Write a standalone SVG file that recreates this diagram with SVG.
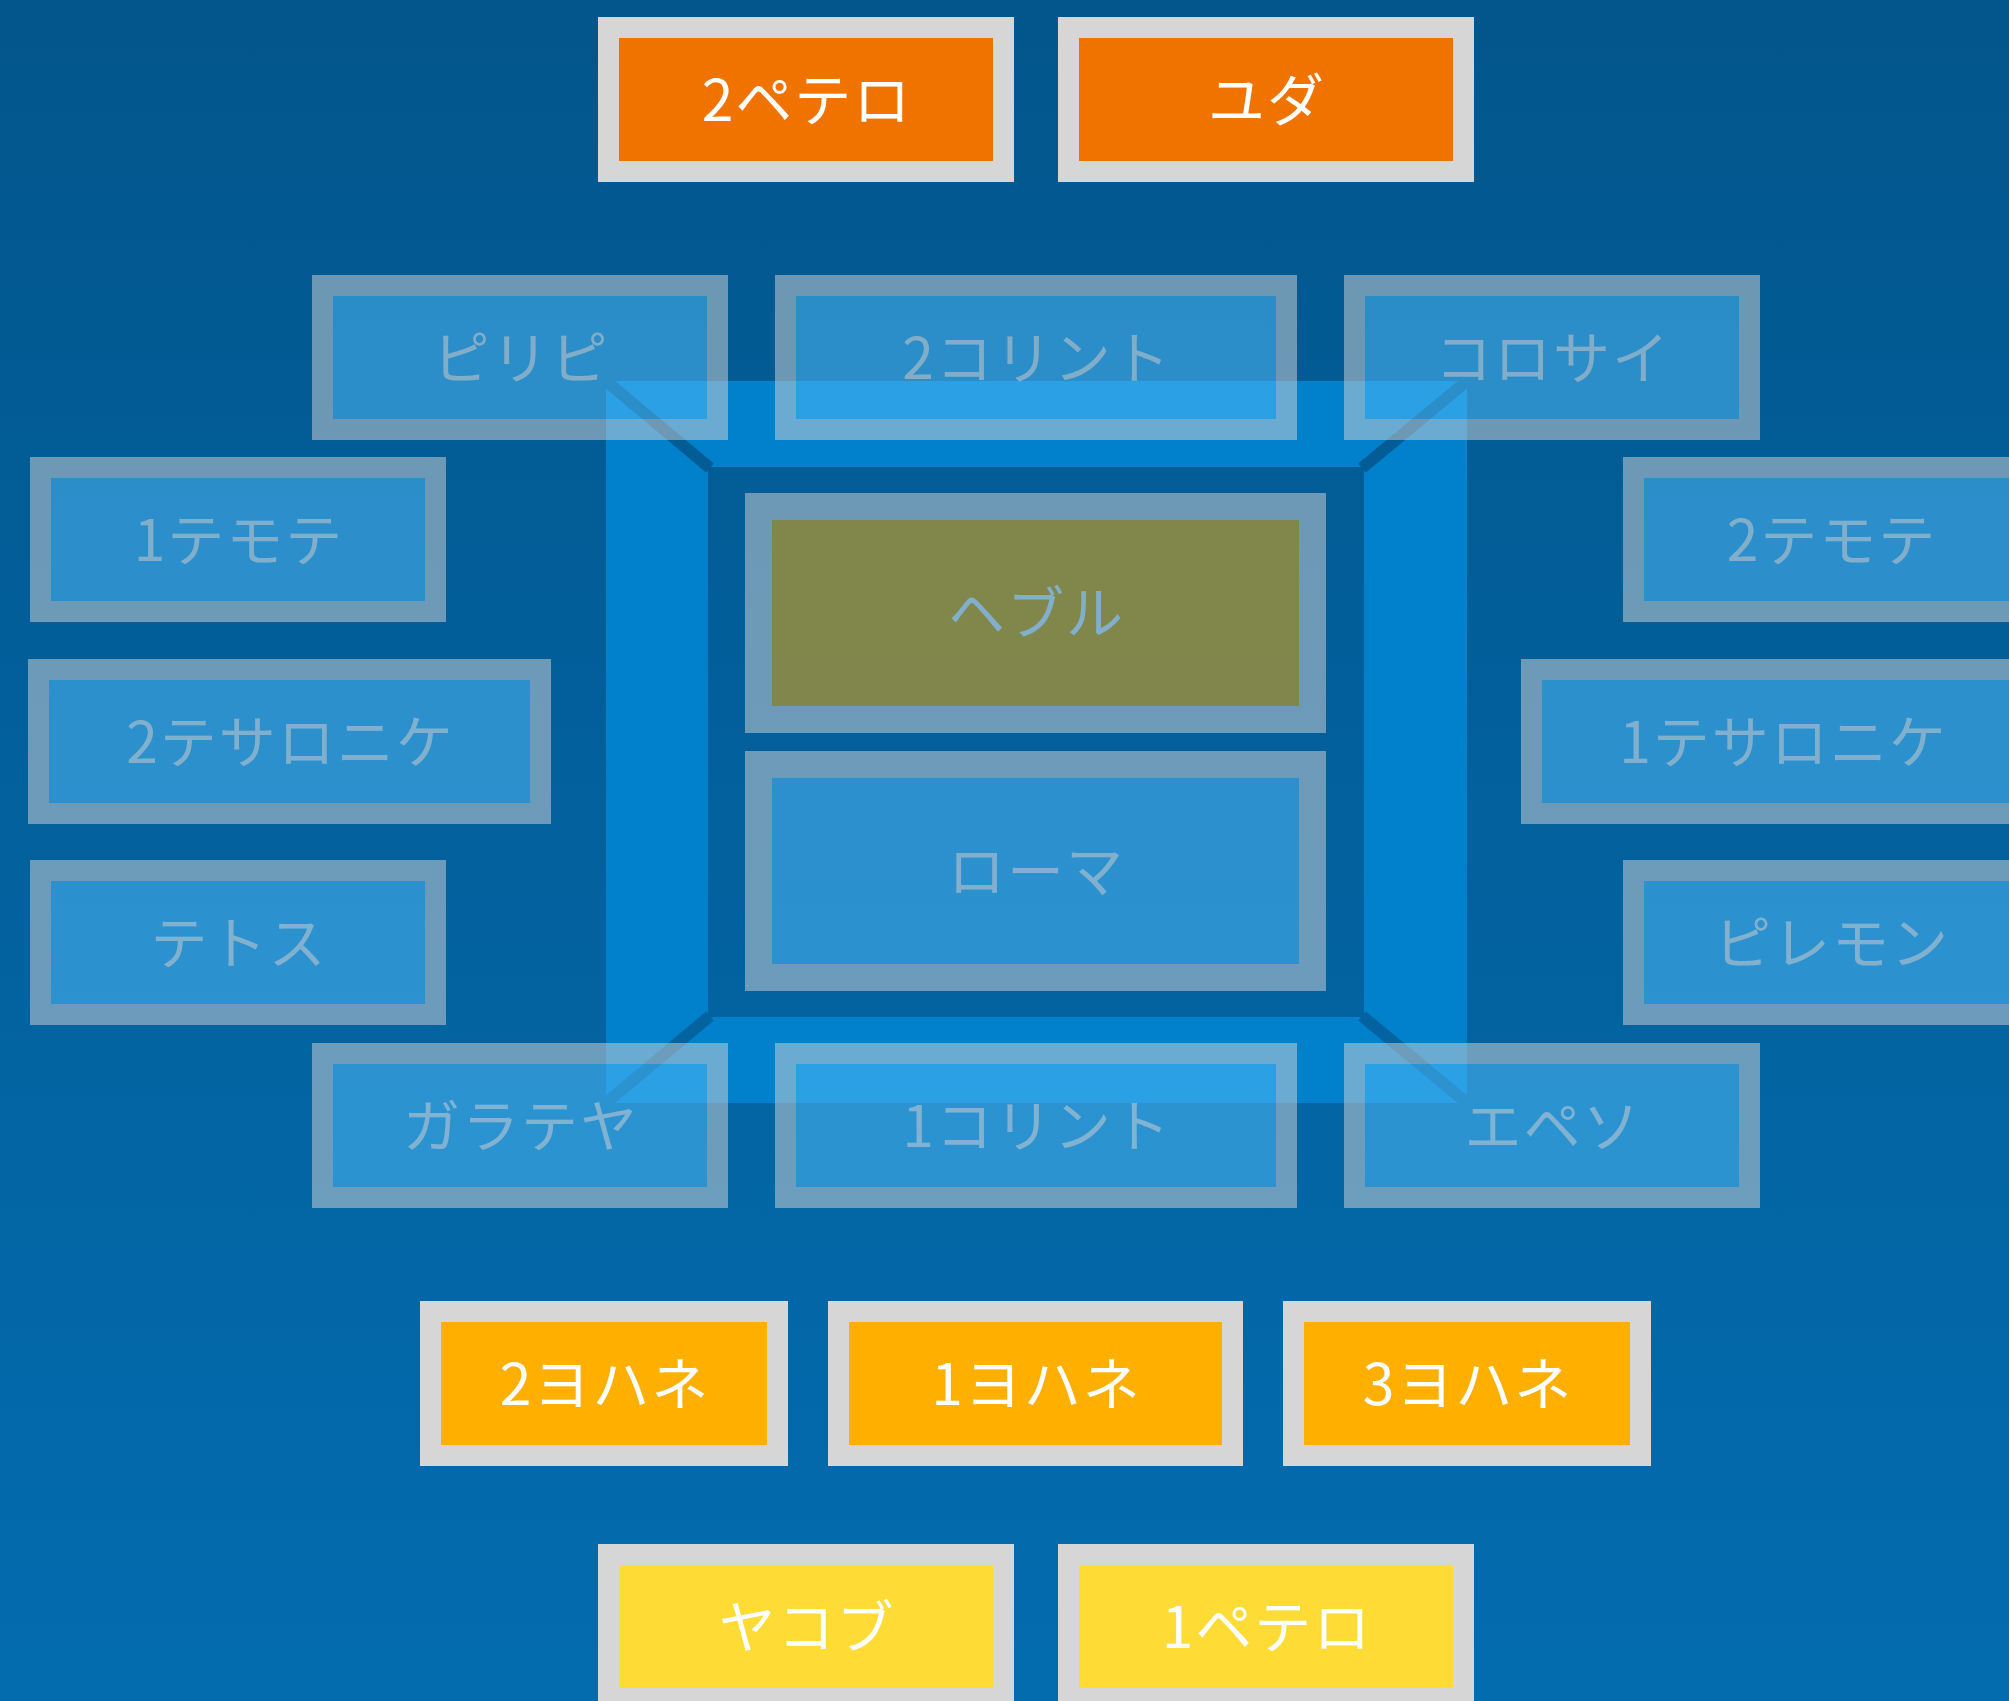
<svg xmlns="http://www.w3.org/2000/svg" width="2009" height="1701" viewBox="0 0 2009 1701">
<defs>
<linearGradient id="bg" gradientUnits="userSpaceOnUse" x1="0" y1="0" x2="0" y2="1701">
<stop offset="0" stop-color="#02568c"/>
<stop offset="1" stop-color="#036caf"/>
</linearGradient>
<style>
.b{stroke:#d6d6d6;stroke-width:21}
.c{stroke:#d6d6d6;stroke-width:27}
.half{opacity:0.5}
.or{fill:#f07300}
.am{fill:#ffaf00}
.ye{fill:#ffdb36}
.lb{fill:#55c1ff}
text{font-family:"Noto Sans CJK JP","Noto Sans",sans-serif;font-size:57px;fill:#ffffff;text-anchor:middle;dominant-baseline:central;letter-spacing:2px}
.diag{stroke:url(#bg);stroke-width:12;fill:none}
</style>
</defs>
<rect x="0" y="0" width="2009" height="1701" fill="url(#bg)"/>
<g id="frame">
<path d="M606,381 H1467 V1103 H606 Z M708,467 V1017 H1364 V467 Z" fill="#0180cc" fill-rule="evenodd"/>
<line class="diag" x1="606" y1="381" x2="710" y2="468"/>
<line class="diag" x1="1467" y1="381" x2="1362" y2="468"/>
<line class="diag" x1="606" y1="1103" x2="710" y2="1016"/>
<line class="diag" x1="1467" y1="1103" x2="1362" y2="1016"/>
</g>
<g id="connectors"/>
<g id="n-2peter"><rect class="b or" x="608.5" y="27.5" width="395" height="144"/><text x="807" y="95.5">2ペテロ</text></g>
<g id="n-jude"><rect class="b or" x="1068.5" y="27.5" width="395" height="144"/><text x="1267" y="95.5">ユダ</text></g>
<g id="n-philippians" class="half"><rect class="b lb" x="322.5" y="285.5" width="395" height="144"/><text x="521" y="353.5">ピリピ</text></g>
<g id="n-2corinthians" class="half"><rect class="b lb" x="785.5" y="285.5" width="501" height="144"/><text x="1037" y="353.5">2コリント</text></g>
<g id="n-colossians" class="half"><rect class="b lb" x="1354.5" y="285.5" width="395" height="144"/><text x="1553" y="353.5">コロサイ</text></g>
<g id="n-1timothy" class="half"><rect class="b lb" x="40.5" y="467.5" width="395" height="144"/><text x="239" y="535.5">1テモテ</text></g>
<g id="n-2timothy" class="half"><rect class="b lb" x="1633.5" y="467.5" width="395" height="144"/><text x="1832" y="535.5">2テモテ</text></g>
<g id="n-2thessalonians" class="half"><rect class="b lb" x="38.5" y="669.5" width="502" height="144"/><text x="290.5" y="737.5">2テサロニケ</text></g>
<g id="n-1thessalonians" class="half"><rect class="b lb" x="1531.5" y="669.5" width="502" height="144"/><text x="1783.5" y="737.5">1テサロニケ</text></g>
<g id="n-titus" class="half"><rect class="b lb" x="40.5" y="870.5" width="395" height="144"/><text x="239" y="938.5">テトス</text></g>
<g id="n-philemon" class="half"><rect class="b lb" x="1633.5" y="870.5" width="395" height="144"/><text x="1832" y="938.5">ピレモン</text></g>
<g id="n-galatians" class="half"><rect class="b lb" x="322.5" y="1053.5" width="395" height="144"/><text x="521" y="1121.5">ガラテヤ</text></g>
<g id="n-1corinthians" class="half"><rect class="b lb" x="785.5" y="1053.5" width="501" height="144"/><text x="1037" y="1121.5">1コリント</text></g>
<g id="n-ephesians" class="half"><rect class="b lb" x="1354.5" y="1053.5" width="395" height="144"/><text x="1553" y="1121.5">エペソ</text></g>
<g id="n-hebrews" class="half"><rect class="c am" x="758.5" y="506.5" width="554" height="213"/><text x="1036.5" y="609">ヘブル</text></g>
<g id="n-romans" class="half"><rect class="c lb" x="758.5" y="764.5" width="554" height="213"/><text x="1036.5" y="867">ローマ</text></g>
<g id="n-2john"><rect class="b am" x="430.5" y="1311.5" width="347" height="144"/><text x="605" y="1379.5">2ヨハネ</text></g>
<g id="n-1john"><rect class="b am" x="838.5" y="1311.5" width="394" height="144"/><text x="1036.5" y="1379.5">1ヨハネ</text></g>
<g id="n-3john"><rect class="b am" x="1293.5" y="1311.5" width="347" height="144"/><text x="1468" y="1379.5">3ヨハネ</text></g>
<g id="n-james"><rect class="b ye" x="608.5" y="1554.5" width="395" height="144"/><text x="807" y="1622.5">ヤコブ</text></g>
<g id="n-1peter"><rect class="b ye" x="1068.5" y="1554.5" width="395" height="144"/><text x="1267" y="1622.5">1ペテロ</text></g>
</svg>
